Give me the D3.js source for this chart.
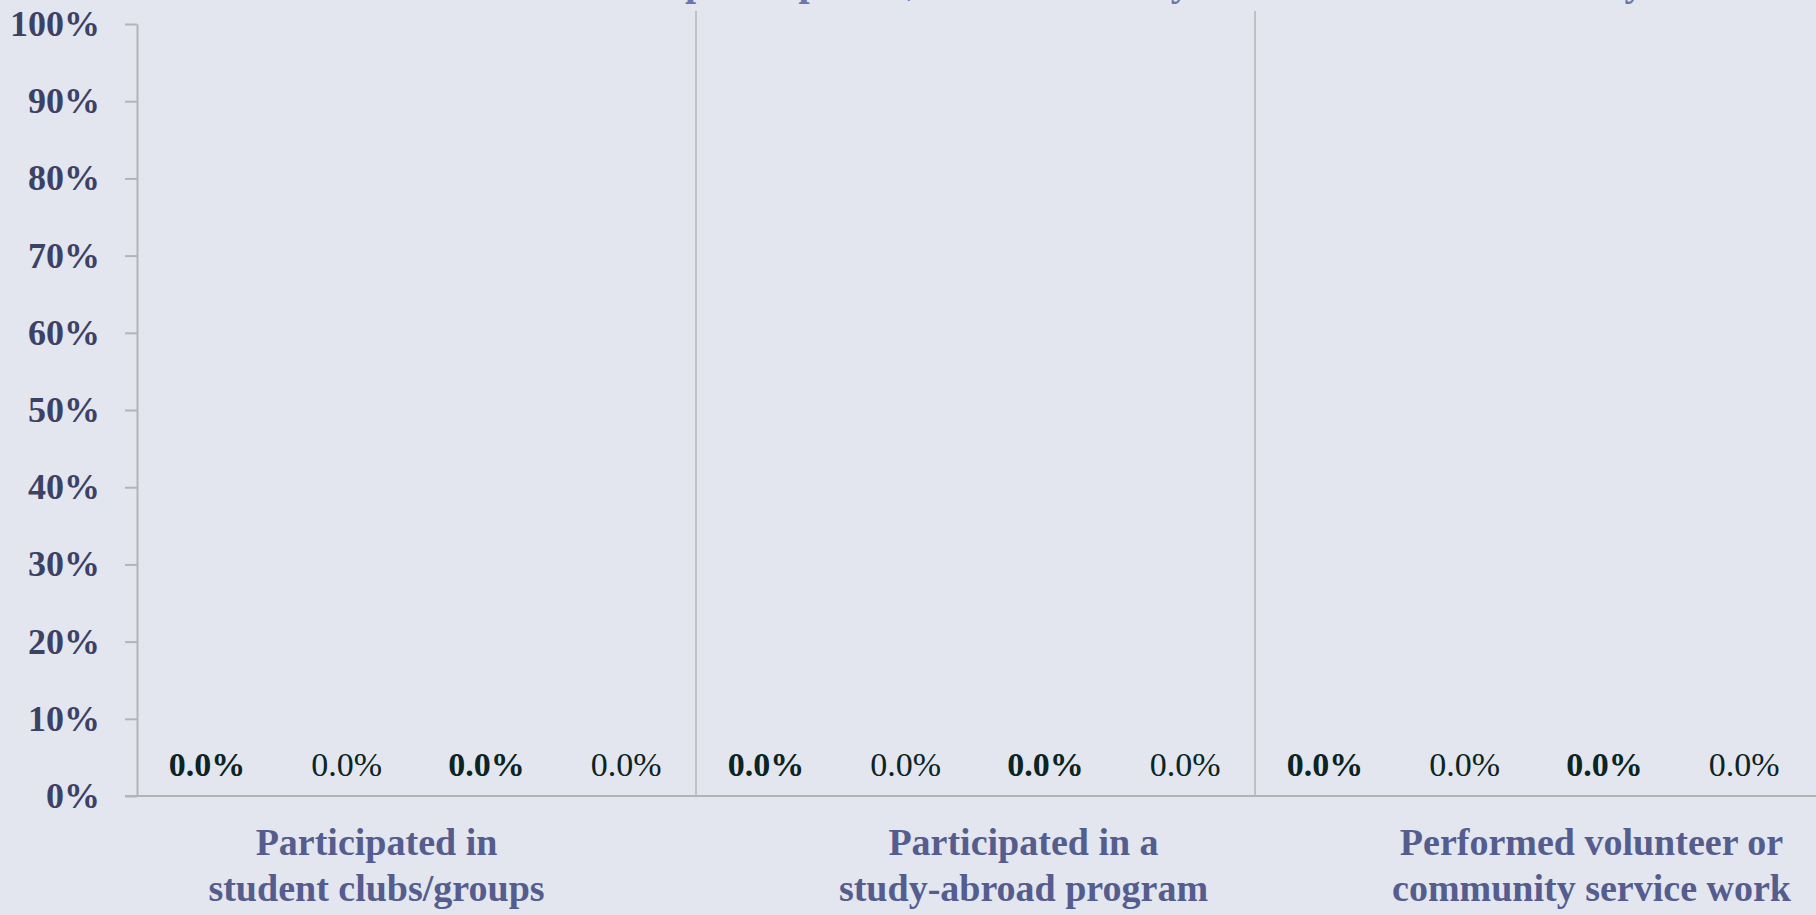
<!DOCTYPE html>
<html>
<head>
<meta charset="utf-8">
<script src="https://cdn.jsdelivr.net/npm/d3@7"></script>
<style>
    body { margin: 0; background: #e3e6ee; overflow: hidden; }
    svg { display: block; font-family: "Liberation Serif", "Times New Roman", serif; }
</style>
</head>
<body>
<div id="chart"></div>
<script>
// chart data
const titleText = "Co-Curricular participation, Student Survey Results for All Cohorts by Sex";
const categories = [
    ["Participated in", "student clubs/groups"],
    ["Participated in a", "study-abroad program"],
    ["Performed volunteer or", "community service work"]
];
const seriesNames = ["Series 1", "Series 2", "Series 3", "Series 4"];
const series1 = [0, 0, 0];
const series2 = [0, 0, 0];
const series3 = [0, 0, 0];
const series4 = [0, 0, 0];
const yTicks = [0, 0.1, 0.2, 0.3, 0.4, 0.5, 0.6, 0.7, 0.8, 0.9, 1.0];

// look
const seriesColor = ["#3b4573", "#6f7bb0", "#22464a", "#9aa3c8"];
const seriesWeight = ["bold", "normal", "bold", "normal"];
const labelShift = [-40, 48, 57];

const width = 1816;
const height = 915;
const margin = {top: 24, right: 2, bottom: 119, left: 137};

const svg = d3.select("#chart")
    .append("svg")
    .attr("width", width)
    .attr("height", height);

const allSeries = [series1, series2, series3, series4];

const x0 = d3.scaleBand()
    .domain(d3.range(categories.length))
    .range([margin.left, width - margin.right])
    .padding(0);

const x1 = d3.scaleBand()
    .domain(d3.range(seriesNames.length))
    .range([0, x0.bandwidth()])
    .paddingInner(0.2)
    .paddingOuter(0.1);

const y = d3.scaleLinear()
    .domain([0, 1])
    .range([height - margin.bottom, margin.top]);

// title (sits mostly above the visible area)
svg.append("text")
    .attr("x", 427)
    .attr("y", -5)
    .style("font-size", "40px")
    .style("font-weight", "bold")
    .style("fill", "#6b76ad")
    .text(titleText);

// group separators
svg.append("g")
    .selectAll("line")
    .data(d3.range(1, categories.length))
    .join("line")
    .attr("x1", d => x0(d))
    .attr("x2", d => x0(d))
    .attr("y1", y(1) - 13)
    .attr("y2", y(0))
    .style("stroke", "#b4b4b6")
    .style("stroke-width", 1.5);

// y axis
const yAxis = svg.append("g")
    .attr("transform", `translate(${margin.left},0)`)
    .call(d3.axisLeft(y).tickValues(yTicks).tickFormat(d3.format(".0%")).tickSize(12).tickSizeOuter(0).tickPadding(25));

yAxis.select(".domain").style("stroke", "#b4b4b6").style("stroke-width", 2);
yAxis.selectAll(".tick line").style("stroke", "#b4b4b6").style("stroke-width", 2);
yAxis.selectAll(".tick text")
    .style("font-family", "'Liberation Serif', serif")
    .style("font-size", "36px")
    .style("font-weight", "bold")
    .style("fill", "#3c4166");

// x axis line
svg.append("line")
    .attr("x1", margin.left - 12)
    .attr("x2", width)
    .attr("y1", y(0))
    .attr("y2", y(0))
    .style("stroke", "#b4b4b6")
    .style("stroke-width", 2);

// bars
const groups = svg.append("g")
    .selectAll("g")
    .data(categories)
    .join("g")
    .attr("transform", (d, i) => `translate(${x0(i)},0)`);

groups.selectAll("rect")
    .data((d, i) => allSeries.map((s, k) => ({k: k, v: s[i]})))
    .join("rect")
    .attr("x", d => x1(d.k))
    .attr("width", x1.bandwidth())
    .attr("y", d => y(d.v))
    .attr("height", d => y(0) - y(d.v))
    .style("fill", d => seriesColor[d.k]);

groups.selectAll("text.value")
    .data((d, i) => allSeries.map((s, k) => ({k: k, v: s[i]})))
    .join("text")
    .attr("class", "value")
    .attr("x", d => x1(d.k) + x1.bandwidth() / 2)
    .attr("y", d => y(d.v) - 20)
    .attr("text-anchor", "middle")
    .style("font-size", "34px")
    .style("font-weight", d => seriesWeight[d.k])
    .style("fill", "#0b2424")
    .text(d => d3.format(".1%")(d.v));

// category labels
const catLabels = svg.append("g")
    .selectAll("text")
    .data(categories)
    .join("text")
    .attr("x", (d, i) => x0(i) + x0.bandwidth() / 2 + labelShift[i])
    .attr("y", y(0) + 59)
    .attr("text-anchor", "middle")
    .style("font-size", "38px")
    .style("font-weight", "bold")
    .style("fill", "#555d8e");

catLabels.selectAll("tspan")
    .data(d => d)
    .join("tspan")
    .attr("x", function () { return d3.select(this.parentNode).attr("x"); })
    .attr("dy", (d, j) => j === 0 ? 0 : 46)
    .text(d => d);
</script>
</body>
</html>
